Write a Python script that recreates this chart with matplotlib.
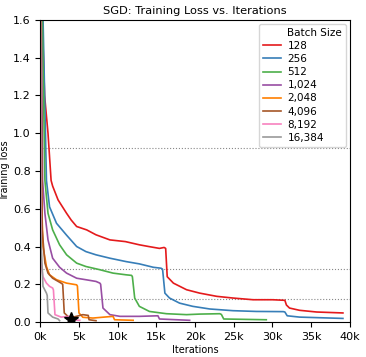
import matplotlib
matplotlib.use('Agg')
import matplotlib.pyplot as plt
from matplotlib.ticker import FuncFormatter

# batch sizes and colours (Set1 palette)
batch_labels = ['128', '256', '512', '1,024', '2,048', '4,096', '8,192', '16,384']
colors = ['#e41a1c', '#377eb8', '#4daf4a', '#984ea3', '#ff7f00', '#a65628', '#f781bf', '#999999']

# curves: iterations (k) and training loss
it_128 = [0, 0.26, 0.56, 1.0, 1.4, 1.6, 2.3, 3.4, 4.0, 4.7, 6.0, 7.2, 9.0, 11.0, 12.8, 14.0, 15.4, 16.0,
          16.2, 16.4, 17.2, 18.9, 20.6, 22.8, 24.9, 27.5, 30.0, 31.6, 31.8, 32.2, 33.5, 35.7, 39.1]
loss_128 = [2.3, 1.6, 1.2, 1.0, 0.75, 0.72, 0.647, 0.576, 0.54, 0.506, 0.488, 0.462, 0.435, 0.426,
            0.409, 0.40, 0.39, 0.395, 0.39, 0.24, 0.206, 0.171, 0.153, 0.136, 0.127, 0.118, 0.118,
            0.115, 0.09, 0.074, 0.062, 0.053, 0.048]

it_256 = [0, 0.8, 1.2, 2.1, 3.4, 4.7, 5.9, 7.2, 9.0, 11.1, 12.8, 14.6, 15.6, 15.8, 16.1, 16.7, 18.0,
          19.7, 21.9, 24.9, 27.9, 31.4, 31.6, 31.9, 33.5, 39.1]
loss_256 = [2.3, 0.75, 0.61, 0.523, 0.46, 0.40, 0.373, 0.356, 0.338, 0.32, 0.308, 0.29, 0.285, 0.28,
            0.153, 0.127, 0.10, 0.083, 0.069, 0.06, 0.056, 0.055, 0.053, 0.033, 0.026, 0.019]

it_512 = [0, 0.6, 1.0, 1.6, 2.5, 3.4, 4.7, 5.9, 7.7, 9.4, 11.1, 11.8, 11.9, 12.2, 12.8, 14.1, 16.3,
          18.9, 20.6, 23.2, 23.4, 23.7, 29.2]
loss_512 = [2.3, 0.75, 0.576, 0.488, 0.409, 0.356, 0.312, 0.294, 0.277, 0.259, 0.25, 0.247, 0.24,
            0.127, 0.083, 0.056, 0.044, 0.039, 0.042, 0.044, 0.04, 0.016, 0.012]

it_1024 = [0, 0.3, 0.6, 1.0, 1.6, 2.5, 3.4, 4.7, 5.9, 7.2, 7.7, 7.8, 8.1, 9.0, 10.3, 12.8, 15.2, 15.4,
           19.3]
loss_1024 = [2.3, 0.75, 0.576, 0.435, 0.338, 0.29, 0.259, 0.232, 0.224, 0.215, 0.206, 0.2, 0.074,
             0.039, 0.03, 0.03, 0.033, 0.016, 0.009]

it_2048 = [0, 0.1, 0.35, 0.8, 1.2, 2.1, 3.4, 4.7, 4.8, 5.0, 5.5, 6.8, 9.4, 9.6, 12.0]
loss_2048 = [2.3, 0.75, 0.40, 0.294, 0.25, 0.224, 0.206, 0.197, 0.19, 0.048, 0.025, 0.021, 0.03,
             0.012, 0.009]

it_4096 = [0, 0.25, 0.6, 1.0, 1.6, 2.7, 2.9, 3.1, 3.8, 5.5, 6.2, 6.3, 7.2]
loss_4096 = [2.3, 0.488, 0.312, 0.259, 0.232, 0.206, 0.2, 0.048, 0.021, 0.039, 0.035, 0.012, 0.007]

it_8192 = [0, 0.1, 0.35, 0.8, 1.2, 1.6, 1.7, 1.9, 2.7, 3.8, 3.9, 5.1]
loss_8192 = [2.3, 0.312, 0.24, 0.206, 0.189, 0.18, 0.17, 0.039, 0.026, 0.03, 0.012, 0.009]

it_16384 = [0, 0.05, 0.35, 0.8, 0.9, 1.0, 1.6, 2.3, 2.5]
loss_16384 = [2.3, 0.488, 0.189, 0.153, 0.14, 0.048, 0.026, 0.016, 0.007]

iters = [it_128, it_256, it_512, it_1024, it_2048, it_4096, it_8192, it_16384]
losses = [loss_128, loss_256, loss_512, loss_1024, loss_2048, loss_4096, loss_8192, loss_16384]

hlines = [0.922, 0.279, 0.122]
star_it, star_loss = 4.0, 0.016

fig = plt.figure(figsize=(3.66, 3.57), dpi=100)
ax = fig.add_axes([0.110, 0.098, 0.846, 0.846])

for y in hlines:
    ax.axhline(y, color='#888888', linestyle=':', linewidth=0.8, zorder=0)

# blank entry acts as the legend heading
ax.plot([], [], color='none', label='Batch Size')
for it, loss, c, lab in zip(iters, losses, colors, batch_labels):
    ax.plot([v * 1000 for v in it], loss, color=c, linewidth=1.2, label=lab)

ax.plot(star_it * 1000, star_loss, marker='*', color='black', markersize=10, zorder=5)

ax.set_xlim(0, 40000)
ax.set_ylim(0, 1.6)
ax.xaxis.set_major_formatter(FuncFormatter(lambda v, p: f'{int(v / 1000)}k'))
ax.tick_params(labelsize=8)
ax.set_xlabel('Iterations', fontsize=7, labelpad=2)
ax.set_ylabel('Training loss', fontsize=7, labelpad=2)
ax.set_title('SGD: Training Loss vs. Iterations', fontsize=8.2, pad=4)
ax.legend(loc='upper right', fontsize=7.5, handlelength=1.7, handletextpad=0.6,
          labelspacing=0.3, borderaxespad=0.35)

fig.savefig('out.png', dpi=100)
